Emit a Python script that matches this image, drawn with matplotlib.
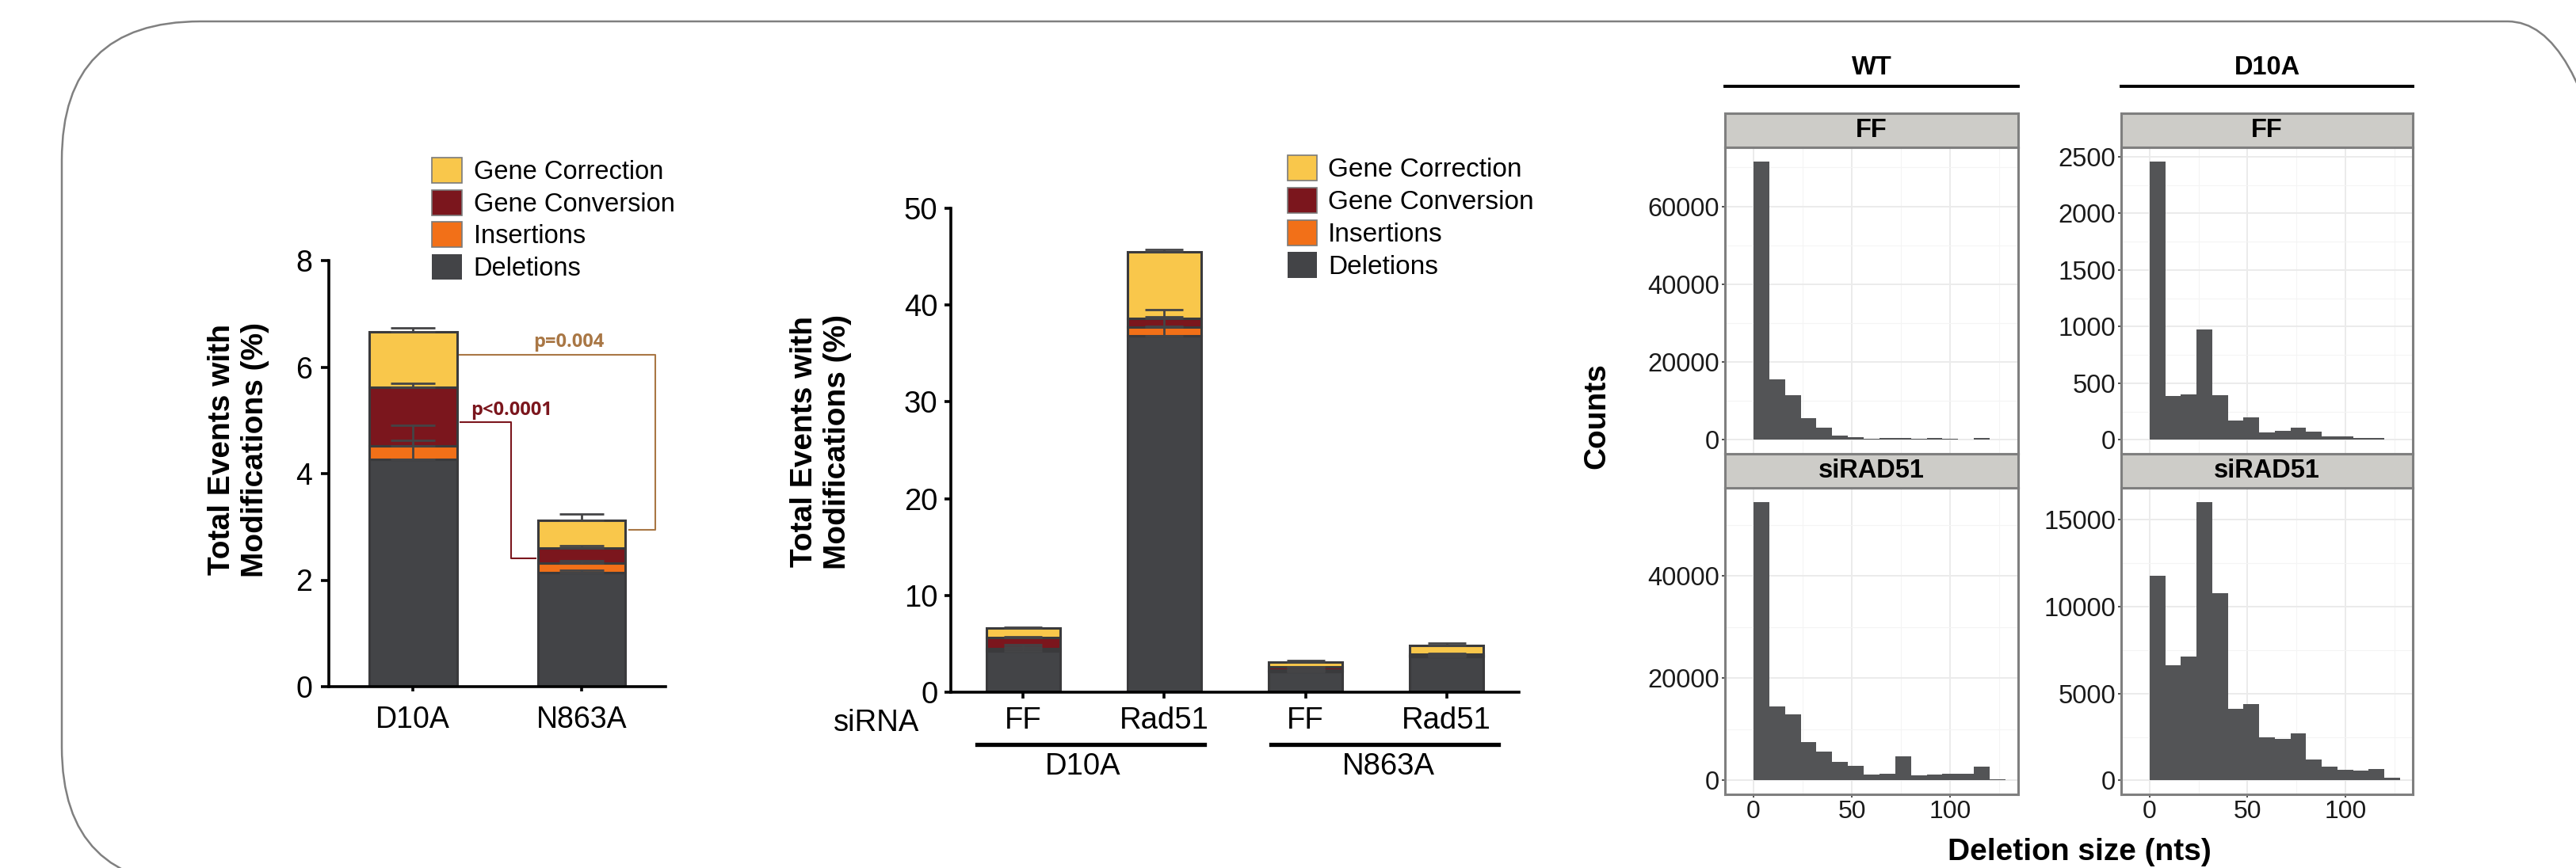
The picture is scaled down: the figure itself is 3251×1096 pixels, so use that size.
import matplotlib
matplotlib.use("Agg")
import matplotlib.pyplot as plt
import numpy as np
from matplotlib.patches import FancyBboxPatch, Patch
from matplotlib.lines import Line2D
from matplotlib.transforms import blended_transform_factory

plt.rcParams['font.family'] = ['Liberation Sans', 'DejaVu Sans']

# ---- data: panel A (FF siRNA) ----
strains = ['D10A', 'N863A']
deletions = [4.27, 2.14]
insertions = [0.25, 0.18]
conversion = [1.10, 0.28]
correction = [1.04, 0.52]
err_del = [0.36, 0.05]
err_ins = [0.39, 0.05]
err_conv = [0.07, 0.04]
err_corr = [0.08, 0.12]

# ---- data: panel B (siRNA) ----
sirna = ['FF', 'Rad51', 'FF', 'Rad51']
groups = ['D10A', 'N863A']
del_b = [4.27, 36.8, 2.14, 3.70]
ins_b = [0.25, 0.90, 0.18, 0.10]
conv_b = [1.10, 0.95, 0.28, 0.15]
corr_b = [1.04, 6.85, 0.52, 0.90]
err_del_b = [0.36, 2.75, 0.05, 0.10]
err_ins_b = [0.39, 0.10, 0.05, 0.05]
err_conv_b = [0.07, 0.10, 0.04, 0.05]
err_corr_b = [0.08, 0.25, 0.12, 0.20]

# ---- data: panel C, deletion size histograms (bins of 8 nts from 0) ----
bin_width = 8
wt_ff = [71600, 15500, 11400, 5600, 3050, 1000, 650, 200, 450, 500, 250, 400, 200, 80, 450, 60]
wt_rad51 = [54530, 14540, 12980, 7550, 5600, 3570, 2900, 1200, 1350, 4760, 1040, 1200, 1350, 1350, 2750, 270]
d10a_ff = [2461, 385, 402, 972, 392, 168, 196, 63, 80, 105, 70, 30, 30, 15, 15]
d10a_rad51 = [11800, 6650, 7150, 16040, 10800, 4100, 4410, 2500, 2380, 2700, 1200, 810, 600, 550, 670, 150]

labels = ['Gene Correction', 'Gene Conversion', 'Insertions', 'Deletions']
c_corr, c_conv, c_ins, c_del = '#F9C74B', '#7B161D', '#F27018', '#434447'
edge = '#3a3a3c'

W, H = 3251, 1096
fig = plt.figure(figsize=(W / 100, H / 100), dpi=100)
fig.patch.set_facecolor('white')


def fx(px):
    return px / W


def fy(py):
    return 1 - py / H


def stacked(ax, x, segs, errs, width, capsize):
    bottom = np.zeros(len(x))
    cols = [c_del, c_ins, c_conv, c_corr]
    for vals, err, col in zip(segs, errs, cols):
        vals = np.array(vals)
        ax.bar(x, vals, width, bottom=bottom, color=col, edgecolor=edge,
               linewidth=2.2, zorder=2)
        top = bottom + vals
        ax.errorbar(x, top, yerr=[np.zeros(len(x)), err], fmt='none',
                    ecolor='#444446', elinewidth=2, capsize=capsize,
                    capthick=2, zorder=3)
        bottom = top


def style_bar_axes(ax):
    for s in ['top', 'right']:
        ax.spines[s].set_visible(False)
    for s in ['left', 'bottom']:
        ax.spines[s].set_linewidth(2.6)
        ax.spines[s].set_color('black')


def legend(ax, x, y, fs, hl, hh, ls, tp):
    handles = [Patch(facecolor=c_corr, edgecolor='#7a7a7a', lw=1.2),
               Patch(facecolor=c_conv, edgecolor='#7a7a7a', lw=1.2),
               Patch(facecolor=c_ins, edgecolor='#7a7a7a', lw=1.2),
               Patch(facecolor=c_del, edgecolor='none')]
    ax.legend(handles, labels, loc='upper left', bbox_to_anchor=(fx(x), fy(y)),
              bbox_transform=fig.transFigure, frameon=False, fontsize=fs,
              handlelength=hl, handleheight=hh, labelspacing=ls,
              handletextpad=tp, borderpad=0, borderaxespad=0)


# ---- rounded frame ----
frame = FancyBboxPatch((0.78, -0.22), 32.62, 10.91,
                       boxstyle='round,pad=0,rounding_size=1.75',
                       transform=fig.dpi_scale_trans, fill=False,
                       edgecolor='#808080', linewidth=1.8)
fig.add_artist(frame)

# ---- panel A ----
ax1 = fig.add_axes([fx(415), fy(867), fx(425), 538 / H])
x1 = np.arange(len(strains))
stacked(ax1, x1, [deletions, insertions, conversion, correction],
        [err_del, err_ins, err_conv, err_corr], 0.52, 20)
ax1.set_xlim(-0.5, 1.5)
ax1.set_ylim(0, 8)
ax1.set_yticks([0, 2, 4, 6, 8])
ax1.set_xticks(x1)
ax1.set_xticklabels(strains)
style_bar_axes(ax1)
ax1.tick_params(axis='y', direction='out', length=7, width=2.6, labelsize=27, pad=8)
ax1.tick_params(axis='x', direction='out', length=4.5, width=2.6, labelsize=27, pad=13)
fig.text(fx(301), fy(568), 'Total Events with\nModifications (%)', rotation=90,
         ha='center', va='center', fontsize=28, fontweight='bold', linespacing=1.2)
legend(ax1, 545, 199, 23.5, 1.17, 1.13, 0.2, 0.45)

# p-value brackets
c_p1, c_p2 = '#A97745', '#7B161D'
ax1.plot([0.277, 1.437, 1.437, 1.282], [6.235, 6.235, 2.94, 2.94], color=c_p1,
         lw=1.5, clip_on=False, zorder=4)
ax1.text(0.925, 6.47, 'p=0.004', color=c_p1, fontsize=17, fontweight='bold',
         family=['Open Sans', 'DejaVu Sans'], ha='center', va='center')
ax1.plot([0.282, 0.582, 0.582, 0.728], [4.97, 4.97, 2.41, 2.41], color=c_p2,
         lw=1.5, clip_on=False, zorder=4)
ax1.text(0.585, 5.19, 'p<0.0001', color=c_p2, fontsize=17, fontweight='bold',
         family=['Open Sans', 'DejaVu Sans'], ha='center', va='center')

# ---- panel B ----
ax2 = fig.add_axes([fx(1200), fy(874), fx(717), 611 / H])
x2 = np.arange(len(sirna))
stacked(ax2, x2, [del_b, ins_b, conv_b, corr_b],
        [err_del_b, err_ins_b, err_conv_b, err_corr_b], 0.52, 17)
ax2.set_xlim(-0.514, 3.514)
ax2.set_ylim(0, 50)
ax2.set_yticks(np.arange(0, 51, 10))
ax2.set_xticks(x2)
ax2.set_xticklabels(sirna)
style_bar_axes(ax2)
ax2.tick_params(axis='y', direction='out', length=6, width=2.6, labelsize=27.5, pad=6)
ax2.tick_params(axis='x', direction='out', length=6, width=2.6, labelsize=27.5, pad=7)
fig.text(fx(1106), fy(913), 'siRNA', ha='center', va='center', fontsize=27.5)
fig.text(fx(1036), fy(558), 'Total Events with\nModifications (%)', rotation=90,
         ha='center', va='center', fontsize=28, fontweight='bold', linespacing=1.2)
legend(ax2, 1625, 196, 24, 1.11, 1.11, 0.19, 0.42)

# group underlines and labels below the siRNA ticks
ax2_blend = blended_transform_factory(ax2.transData, fig.transFigure)
group_spans = [(-0.33, 1.285), (1.756, 3.37)]
group_label_x = [0.42, 2.59]
for (a, b), gx, g in zip(group_spans, group_label_x, groups):
    fig.add_artist(Line2D([a, b], [fy(940), fy(940)], transform=ax2_blend,
                          color='black', lw=3.8))
    fig.text(gx, fy(968), g, transform=ax2_blend, ha='center', va='center', fontsize=27.5)

# ---- panel C: histograms ----
bar_col = '#535456'
border = '#7f7f7f'
cols_x = [(2177, 2547), (2677, 3045)]
plot_rows = [(186, 573), (616, 1003)]
strip_rows = [(143, 186), (573, 616)]
hist_data = [[wt_ff, wt_rad51], [d10a_ff, d10a_rad51]]
hist_yticks = [[[0, 20000, 40000, 60000], [0, 20000, 40000]],
               [[0, 500, 1000, 1500, 2000, 2500], [0, 5000, 10000, 15000]]]
strip_names = ['FF', 'siRAD51']
col_names = ['WT', 'D10A']

for ci, (xl, xr) in enumerate(cols_x):
    # column header
    fig.text(fx((xl + xr) / 2), fy(86), col_names[ci], ha='center', va='center',
             fontsize=23.5, fontweight='bold')
    fig.add_artist(Line2D([fx(xl), fx(xr)], [fy(109), fy(109)], color='black', lw=2.8))
    for ri in range(2):
        yt, yb = plot_rows[ri]
        ax = fig.add_axes([fx(xl), fy(yb), fx(xr - xl), (yb - yt) / H])
        counts = np.array(hist_data[ci][ri])
        edges = np.arange(len(counts)) * bin_width
        ax.bar(edges, counts, width=bin_width, align='edge', color=bar_col,
               linewidth=0, zorder=2)
        ymax = counts.max()
        ax.set_ylim(-0.05 * ymax, 1.05 * ymax)
        ax.set_xlim(-14.5, 134.5)
        yt_ = hist_yticks[ci][ri]
        step = yt_[1] - yt_[0]
        ax.set_yticks(yt_)
        ax.set_yticks(np.arange(step / 2, 1.05 * ymax, step), minor=True)
        ax.set_xticks([0, 50, 100])
        ax.set_xticks([25, 75, 125], minor=True)
        ax.grid(which='major', color='#EBEBEB', lw=1.4, zorder=0)
        ax.grid(which='minor', color='#F4F4F4', lw=0.8, zorder=0)
        ax.set_axisbelow(True)
        for s in ax.spines.values():
            s.set_color(border)
            s.set_linewidth(2.2)
        ax.tick_params(which='minor', length=0)
        ax.tick_params(axis='y', which='major', length=3, width=1.2, color='#333333',
                       labelsize=23.5, labelcolor='#1a1a1a', pad=2)
        if ri == 1:
            ax.tick_params(axis='x', which='major', length=3, width=1.2, color='#333333',
                           labelsize=23, labelcolor='#1a1a1a', pad=2)
        else:
            ax.tick_params(axis='x', which='major', length=0, labelbottom=False)
        # strip
        st, sb = strip_rows[ri]
        sax = fig.add_axes([fx(xl), fy(sb), fx(xr - xl), (sb - st) / H])
        sax.set_facecolor('#CDCCC8')
        sax.set_xticks([])
        sax.set_yticks([])
        for s in sax.spines.values():
            s.set_color(border)
            s.set_linewidth(2.2)
        sax.text(0.5, 0.5, strip_names[ri], transform=sax.transAxes, ha='center',
                 va='center', fontsize=23.5, fontweight='bold')

fig.text(fx(2015), fy(525), 'Counts', rotation=90, ha='center', va='center',
         fontsize=28, fontweight='bold')
fig.text(fx(2624), fy(1076), 'Deletion size (nts)', ha='center', va='center',
         fontsize=28, fontweight='bold')

fig.savefig('out.png', dpi=100, facecolor='white')
